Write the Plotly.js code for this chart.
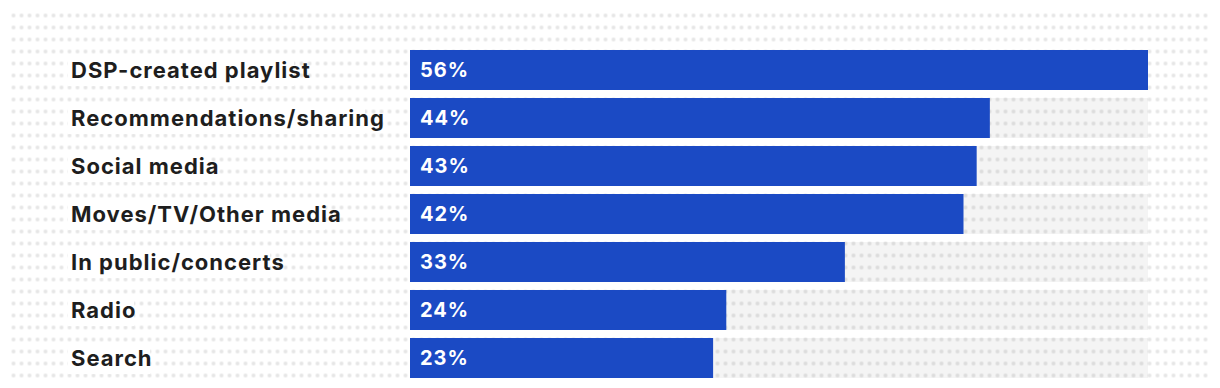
<!DOCTYPE html>
<html>
<head>
<meta charset="utf-8">
<script src="https://cdn.plot.ly/plotly-3.0.1.min.js"></script>
<style>
  html, body { margin: 0; padding: 0; background: #ffffff; }
  #chart { width: 1220px; height: 388px; }
  #chart .annotation-text { letter-spacing: 1px; }
</style>
</head>
<body>
<div id="chart"></div>
<script>
// ---- data ----
const categories = [
  "DSP-created playlist",
  "Recommendations/sharing",
  "Social media",
  "Moves/TV/Other media",
  "In public/concerts",
  "Radio",
  "Search"
];
const values = [56, 44, 43, 42, 33, 24, 23];

// ---- styling ----
const W = 1220, H = 388;
const BLUE = "#1b4ac4";
const FONT = "Inter, 'Liberation Sans', Arial, sans-serif";
const maxVal = Math.max(...values);
const trackVals = categories.map(() => maxVal);

// dotted decorative background (SVG pattern)
const svg =
  '<svg xmlns="http://www.w3.org/2000/svg" width="' + W + '" height="' + H + '">' +
  '<defs><pattern id="p" x="9.5" y="9.5" width="8" height="12" patternUnits="userSpaceOnUse">' +
  '<circle cx="4" cy="6" r="2" fill="#e6e6e6"/></pattern></defs>' +
  '<rect x="11" y="12" width="1198" height="367" fill="url(#p)"/></svg>';
const dotsSrc = "data:image/svg+xml;charset=utf-8," + encodeURIComponent(svg);

const track = {
  type: "bar",
  orientation: "h",
  y: categories,
  x: trackVals,
  marker: { color: "rgba(0,0,0,0.045)", line: { width: 0 } },
  hoverinfo: "skip",
  showlegend: false
};

const bars = {
  type: "bar",
  orientation: "h",
  y: categories,
  x: values,
  marker: { color: BLUE, line: { width: 0 } },
  hoverinfo: "skip",
  showlegend: false
};

const annotations = [];
categories.forEach((c, i) => {
  annotations.push({
    xref: "paper", yref: "y",
    x: 72 / W, y: c,
    xanchor: "left", yanchor: "middle",
    align: "left",
    xshift: -4,
    text: c,
    showarrow: false,
    bgcolor: "#ffffff",
    borderpad: 3,
    borderwidth: 0,
    font: { family: FONT, size: 22, color: "#1e1e1e", weight: 700 }
  });
  annotations.push({
    xref: "x", yref: "y",
    x: 0, y: c,
    xanchor: "left", yanchor: "middle",
    align: "left",
    xshift: 8,
    text: values[i] + "%",
    showarrow: false,
    font: { family: FONT, size: 20, color: "#ffffff", weight: 700 }
  });
});

const layout = {
  width: W, height: H,
  margin: { l: 0, r: 0, t: 0, b: 0, pad: 0 },
  paper_bgcolor: "#ffffff",
  plot_bgcolor: "rgba(0,0,0,0)",
  barmode: "overlay",
  bargap: 8 / 48,
  showlegend: false,
  xaxis: {
    domain: [410 / W, 1148 / W],
    range: [0, maxVal],
    showgrid: false, zeroline: false, showticklabels: false, showline: false,
    fixedrange: true
  },
  yaxis: {
    domain: [(H - 382) / H, (H - 46) / H],
    autorange: "reversed",
    type: "category",
    showgrid: false, zeroline: false, showticklabels: false, showline: false,
    fixedrange: true
  },
  images: [{
    source: dotsSrc,
    xref: "paper", yref: "paper",
    x: 0, y: 1, sizex: 1, sizey: 1,
    xanchor: "left", yanchor: "top",
    sizing: "stretch",
    layer: "below"
  }],
  annotations: annotations,
  font: { family: FONT }
};

Plotly.newPlot("chart", [track, bars], layout, { displayModeBar: false, staticPlot: true });
</script>
</body>
</html>
